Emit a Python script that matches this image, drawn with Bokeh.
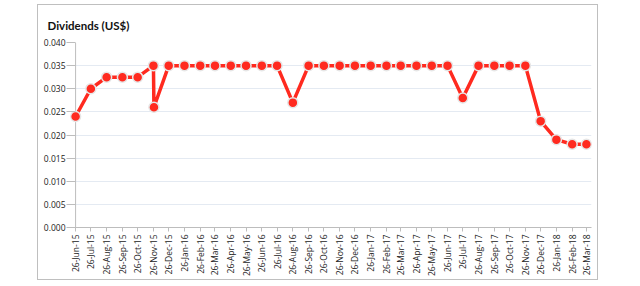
from math import pi
import pandas as pd
from bokeh.plotting import figure
from bokeh.models import (ColumnDataSource, FixedTicker, DatetimeTickFormatter,
                          NumeralTickFormatter, Range1d, Span)
from bokeh.embed import file_html
from bokeh.resources import INLINE

# ---- data ----
dates = ["2015-06-26", "2015-07-26", "2015-08-26", "2015-09-26", "2015-10-26",
         "2015-11-26", "2015-11-27", "2015-12-26",
         "2016-01-26", "2016-02-26", "2016-03-26", "2016-04-26", "2016-05-26",
         "2016-06-26", "2016-07-26", "2016-08-26", "2016-09-26", "2016-10-26",
         "2016-11-26", "2016-12-26",
         "2017-01-26", "2017-02-26", "2017-03-26", "2017-04-26", "2017-05-26",
         "2017-06-26", "2017-07-26", "2017-08-26", "2017-09-26", "2017-10-26",
         "2017-11-26", "2017-12-26",
         "2018-01-26", "2018-02-26", "2018-03-26"]
dividends = [0.024, 0.030, 0.0325, 0.0325, 0.0325,
             0.035, 0.026, 0.035,
             0.035, 0.035, 0.035, 0.035, 0.035,
             0.035, 0.035, 0.027, 0.035, 0.035,
             0.035, 0.035,
             0.035, 0.035, 0.035, 0.035, 0.035,
             0.035, 0.028, 0.035, 0.035, 0.035,
             0.035, 0.023,
             0.019, 0.018, 0.018]
tick_dates = ["2015-06-26", "2015-07-26", "2015-08-26", "2015-09-26", "2015-10-26",
              "2015-11-26", "2015-12-26", "2016-01-26", "2016-02-26", "2016-03-26",
              "2016-04-26", "2016-05-26", "2016-06-26", "2016-07-26", "2016-08-26",
              "2016-09-26", "2016-10-26", "2016-11-26", "2016-12-26", "2017-01-26",
              "2017-02-26", "2017-03-26", "2017-04-26", "2017-05-26", "2017-06-26",
              "2017-07-26", "2017-08-26", "2017-09-26", "2017-10-26", "2017-11-26",
              "2017-12-26", "2018-01-26", "2018-02-26", "2018-03-26"]
y_ticks = [0.000, 0.005, 0.010, 0.015, 0.020, 0.025, 0.030, 0.035, 0.040]
title_text = "Dividends (US$)"

# ---- build ----
x = pd.to_datetime(dates)
src = ColumnDataSource(dict(x=x, y=dividends))
tick_ms = [float(v) for v in (pd.to_datetime(tick_dates).astype("int64") // 10**6)]
pad = pd.Timedelta(days=10)

p = figure(width=561, height=276, x_axis_type="datetime", output_backend="svg",
           toolbar_location=None,
           x_range=Range1d(pd.Timestamp(tick_dates[0]) - pad, pd.Timestamp(tick_dates[-1]) + pad),
           y_range=Range1d(0, 0.04),
           min_border_left=32, min_border_right=8, min_border_top=37, min_border_bottom=54)
p.margin = (4, 0, 0, 37)
p.styles = {"border": "1px solid #BFBFBF"}
p.outline_line_color = None
p.background_fill_color = "white"
p.border_fill_color = "white"

p.title.text = title_text
p.title.align = "left"
p.title.offset = -23
p.title.standoff = 21
p.title.text_font = "Lato"
p.title.text_font_style = "bold"
p.title.text_font_size = "11.5px"
p.title.text_color = "#111111"

p.xgrid.grid_line_color = None
p.ygrid.grid_line_color = "#E4EAF2"
p.ygrid.grid_line_width = 1

fmt = "%d-%b-%y"
p.xaxis.ticker = FixedTicker(ticks=tick_ms)
p.xaxis.formatter = DatetimeTickFormatter(microseconds=fmt, milliseconds=fmt, seconds=fmt,
                                          minsec=fmt, minutes=fmt, hourmin=fmt, hours=fmt,
                                          days=fmt, months=fmt, years=fmt)
p.xaxis.major_label_orientation = pi / 2
p.xaxis.minor_tick_line_color = None
p.xaxis.major_tick_in = 0
p.xaxis.major_tick_out = 4
p.xaxis.axis_line_color = "#BDBDBD"
p.xaxis.major_tick_line_color = "#BDBDBD"
p.xaxis.major_label_text_font = "Open Sans"
p.xaxis.major_label_text_font_size = "8.5px"
p.xaxis.major_label_text_color = "#222222"
p.xaxis.major_label_standoff = 3

p.yaxis.ticker = FixedTicker(ticks=y_ticks)
p.yaxis.formatter = NumeralTickFormatter(format="0.000")
p.yaxis.minor_tick_line_color = None
p.yaxis.major_tick_in = 5
p.yaxis.major_tick_out = 4
p.yaxis.axis_line_color = None
p.yaxis.major_tick_line_color = "#BDBDBD"
p.yaxis.major_label_text_font = "Open Sans"
p.yaxis.major_label_text_font_size = "8.5px"
p.yaxis.major_label_text_color = "#222222"
p.yaxis.major_label_standoff = 1

yline = Span(location=tick_ms[0], dimension="height", line_color="#BDBDBD",
             line_width=1, level="underlay")
p.add_layout(yline)

red = "#FF2A1F"
p.line("x", "y", source=src, line_color=red, line_width=3.5)
p.scatter("x", "y", source=src, size=10, fill_color=red, line_color="#E6E6E6", line_width=1.5)

open("out.html", "w").write(file_html(p, INLINE))
